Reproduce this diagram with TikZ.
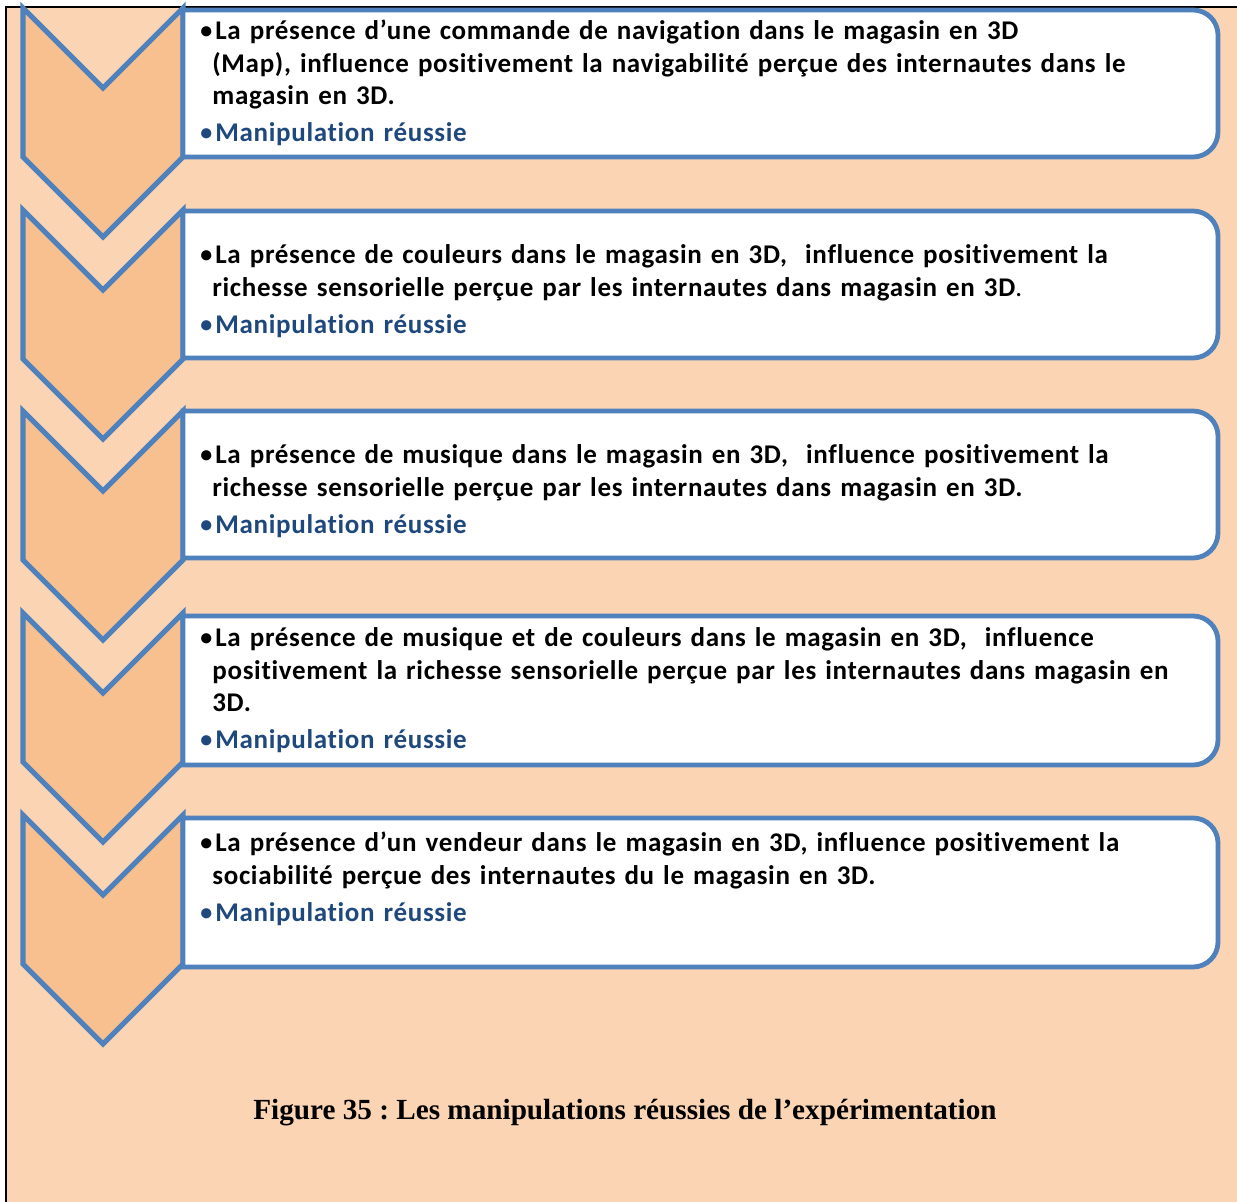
\documentclass[tikz,border=0pt]{standalone}
\usepackage{fontspec}
\setmainfont{Carlito}[Ligatures=NoCommon, LetterSpace=2.5]
\newfontfamily\legendefont{Liberation Serif}
\usepackage{xcolor}
\usepackage{tikz}
\usetikzlibrary{positioning}

\definecolor{peche}{HTML}{FBD4B4}
\definecolor{orangeclair}{HTML}{F9C08F}
\definecolor{bleucadre}{HTML}{4F81BD}
\definecolor{bleutexte}{HTML}{1F497D}

\newcommand{\rond}{\makebox[7.5pt][l]{\rule{0pt}{12pt}\raisebox{0.6pt}{\fontsize{12}{10}\selectfont•}}}
\newcommand{\puce}[1]{\par\hangindent=6pt\hangafter=1\noindent\rond#1}
\newcommand{\reussie}{\par\vspace{2.25pt}\noindent{\color{bleutexte}\rond Manipulation réussie}}

\tikzset{
  chevron/.style={draw=bleucadre, fill=orangeclair, line width=2.6pt, line join=miter},
  etape/.style={draw=bleucadre, fill=white, line width=2.4pt},
  texte/.style={anchor=north west, inner sep=0pt, text width=515pt,
    font=\raggedright\fontsize{13.5}{16.25}\selectfont\bfseries},
  legende/.style={anchor=base, inner sep=0pt, font=\legendefont\bfseries\fontsize{14.6}{17}\selectfont}
}

\begin{document}
\frenchspacing
\begin{tikzpicture}[x=0.5pt, y=-0.5pt]
\useasboundingbox (0,0) rectangle (1237,1202);
\fill[white] (0,0) rectangle (1237,1202);
\fill[peche] (6,7) rectangle (1237,1202);
\draw[line width=1pt] (6,1202) -- (6,7) -- (1237,7);

% chevrons
\foreach \c in {8,210,411,613,815}{
  \draw[chevron] (23,\c) -- (103,\c+80) -- (183,\c) -- (183,\c+149)
    -- (103,\c+229) -- (23,\c+149) -- cycle;
}

% boxes
\foreach \t/\b in {10/157,211/358,411/558,616/765,818/967}{
  \draw[etape] (183,\b) -- (183,\t) {[rounded corners=12.5pt] -- (1218,\t) -- (1218,\b)} -- cycle;
}

\node[texte] (navigation) at (200,7) {%
\puce{La présence d’une commande de navigation dans le magasin en 3D\newline
(Map), influence positivement la navigabilité perçue des internautes dans le\newline
magasin en 3D.}
\reussie};

\node[texte] (couleurs) at (200,231) {%
\puce{La présence de couleurs dans le magasin en 3D,~ influence positivement la\newline
richesse sensorielle perçue par les internautes dans magasin en 3D{\mdseries .}}
\reussie};

\node[texte] (musique) at (200,431) {%
\puce{La présence de musique dans le magasin en 3D,~ influence positivement la\newline
richesse sensorielle perçue par les internautes dans magasin en 3D.}
\reussie};

\node[texte] (musiquecouleurs) at (200,614) {%
\puce{La présence de musique et de couleurs dans le magasin en 3D,~ influence\newline
positivement la richesse sensorielle perçue par les internautes dans magasin en\newline
3D.}
\reussie};

\node[texte] (vendeur) at (200,819) {%
\puce{La présence d’un vendeur dans le magasin en 3D, influence positivement la\newline
sociabilité perçue des internautes du le magasin en 3D.}
\reussie};

\node[legende] (titre) at (625,1119) {Figure 35 : Les manipulations réussies de l’expérimentation};
\end{tikzpicture}
\end{document}
